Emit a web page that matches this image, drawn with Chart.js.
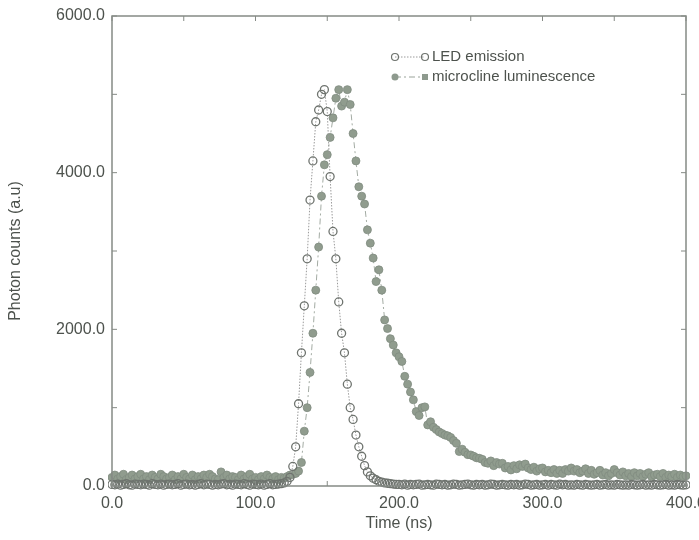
<!DOCTYPE html>
<html>
<head>
<meta charset="utf-8">
<script src="https://cdn.jsdelivr.net/npm/chart.js@4.4.1/dist/chart.umd.min.js"></script>
<style>
  body { margin: 0; background: #fff; }
  #wrap { width: 699px; height: 540px; }
</style>
</head>
<body>
<div id="wrap"><canvas id="myChart" width="699" height="540"></canvas></div>
<script>
// sampling grid (ns)
const timeNs = [
  0,2,4,6,8,10,12,14,16,18, 20,22,24,26,28,30,32,34,36,38,
  40,42,44,46,48,50,52,54,56,58, 60,62,64,66,68,70,72,74,76,78,
  80,82,84,86,88,90,92,94,96,98, 100,102,104,106,108,110,112,114,116,118,
  120,122,124,126,128,130,132,134,136,138, 140,142,144,146,148,150,152,154,156,158,
  160,162,164,166,168,170,172,174,176,178, 180,182,184,186,188,190,192,194,196,198,
  200,202,204,206,208,210,212,214,216,218, 220,222,224,226,228,230,232,234,236,238,
  240,242,244,246,248,250,252,254,256,258, 260,262,264,266,268,270,272,274,276,278,
  280,282,284,286,288,290,292,294,296,298, 300,302,304,306,308,310,312,314,316,318,
  320,322,324,326,328,330,332,334,336,338, 340,342,344,346,348,350,352,354,356,358,
  360,362,364,366,368,370,372,374,376,378, 380,382,384,386,388,390,392,394,396,398,
  400
];

// LED emission (open circles)
const ledCounts = [
  20,15,25,10,20,30,15,10,25,20, 15,25,20,10,30,20,15,25,10,20,
  25,15,20,30,10,20,25,15,20,10, 20,30,15,25,20,10,20,15,25,30,
  15,20,10,25,20,15,30,20,10,25, 20,15,25,10,20,30,15,20,25,30,
  40,60,110,250,500,1050,1700,2300,2900,3650, 4150,4650,4800,5000,5060,4780,3950,3250,2900,2350,
  1950,1700,1300,1000,850,650,500,380,260,180, 130,100,80,60,50,40,35,30,25,20,
  20,15,25,10,20,15,20,25,10,15, 20,15,10,25,20,15,20,10,15,25,
  20,10,15,20,25,15,10,20,15,20, 10,15,25,20,10,15,20,15,10,20,
  15,20,10,15,25,20,10,15,20,10, 15,20,10,20,15,10,25,15,20,10,
  15,10,20,15,10,20,15,10,15,20, 10,15,20,10,15,10,20,15,10,15,
  10,20,15,10,15,20,10,15,10,20, 15,10,15,20,10,15,10,20,15,10,
  15
];

// microcline luminescence (filled circles)
const microclineCounts = [
  110,140,90,120,150,80,110,140,90,120, 150,90,120,80,140,110,90,150,120,90,
  110,140,80,120,90,150,110,90,140,80, 120,90,140,110,150,120,90,80,180,110,
  140,90,120,110,80,140,90,120,150,90, 110,80,120,90,140,110,90,120,80,110,
  100,120,140,150,160,190,300,700,1000,1450, 1950,2500,3050,3700,4100,4230,4450,4700,4950,5060,
  4850,4900,5060,4870,4500,4150,3820,3700,3600,3270, 3100,2910,2610,2760,2500,2120,2010,1880,1800,1700,
  1650,1590,1400,1300,1200,1100,950,900,1000,1010, 780,820,750,720,690,670,650,640,620,580,
  545,440,470,430,400,396,380,360,354,340, 300,290,320,260,300,280,290,230,250,205,
  260,220,270,250,280,230,210,240,190,220, 230,180,200,170,210,160,200,160,210,190,
  230,190,210,170,190,220,160,200,150,170, 200,140,170,130,160,210,170,140,180,130,
  160,120,170,130,160,120,150,170,120,140, 150,120,160,110,140,120,150,110,140,120,
  130
];

const xTicks = [0, 100, 200, 300, 400];
const yTicks = [0, 2000, 4000, 6000];

const textColor = '#4d524d';
const fontFamily = '"Liberation Sans", Arial, Helvetica, sans-serif';

// frame + inward tick marks
const frame = {
  id: 'frame',
  afterDatasetsDraw(chart) {
    const { ctx, chartArea: a, scales } = chart;
    ctx.save();
    ctx.strokeStyle = '#858a85';
    ctx.lineWidth = 1.5;
    ctx.strokeRect(a.left, a.top, a.right - a.left, a.bottom - a.top);
    ctx.lineWidth = 1;
    for (let v = 0; v <= 400; v += 50) {
      const px = scales.x.getPixelForValue(v);
      ctx.beginPath();
      ctx.moveTo(px, a.bottom); ctx.lineTo(px, a.bottom - 5);
      ctx.moveTo(px, a.top); ctx.lineTo(px, a.top + 5);
      ctx.stroke();
    }
    for (let v = 0; v <= 6000; v += 1000) {
      const py = scales.y.getPixelForValue(v);
      ctx.beginPath();
      ctx.moveTo(a.left, py); ctx.lineTo(a.left + 5, py);
      ctx.moveTo(a.right, py); ctx.lineTo(a.right - 5, py);
      ctx.stroke();
    }
    ctx.restore();
  }
};

// legend drawn by hand, inside the plot
const keyBox = {
  id: 'keyBox',
  afterDraw(chart) {
    const ctx = chart.ctx;
    ctx.save();
    ctx.font = '15px ' + fontFamily;
    ctx.fillStyle = textColor;
    ctx.textBaseline = 'middle';

    // LED emission
    let y = 57;
    ctx.strokeStyle = '#9a9a9a';
    ctx.lineWidth = 1;
    ctx.setLineDash([1.5, 1.5]);
    ctx.beginPath(); ctx.moveTo(395, y); ctx.lineTo(425, y); ctx.stroke();
    ctx.setLineDash([]);
    ctx.strokeStyle = '#6e736e';
    ctx.lineWidth = 1.2;
    [395, 425].forEach(x => { ctx.beginPath(); ctx.arc(x, y, 3.5, 0, Math.PI * 2); ctx.stroke(); });
    ctx.fillText('LED emission', 432, y);

    // microcline luminescence
    y = 77;
    ctx.strokeStyle = '#9aa39a';
    ctx.lineWidth = 1;
    ctx.setLineDash([6, 3, 2, 3]);
    ctx.beginPath(); ctx.moveTo(395, y); ctx.lineTo(425, y); ctx.stroke();
    ctx.setLineDash([]);
    ctx.fillStyle = '#8e9a8e';
    ctx.beginPath(); ctx.arc(395, y, 3.5, 0, Math.PI * 2); ctx.fill();
    ctx.fillRect(422, y - 3, 6, 6);
    ctx.fillStyle = textColor;
    ctx.fillText('microcline luminescence', 432, y);
    ctx.restore();
  }
};

new Chart('myChart', {
  type: 'scatter',
  data: {
    datasets: [
      {
        label: 'LED emission',
        data: timeNs.map((t, i) => ({ x: t, y: ledCounts[i] })),
        showLine: true,
        borderColor: '#9a9a9a',
        borderWidth: 1,
        borderDash: [1.5, 1.5],
        pointRadius: 4,
        pointBorderWidth: 1.3,
        pointBorderColor: '#6e736e',
        pointBackgroundColor: 'rgba(255,255,255,0)',
        clip: 4
      },
      {
        label: 'microcline luminescence',
        data: timeNs.map((t, i) => ({ x: t, y: microclineCounts[i] })),
        showLine: true,
        borderColor: '#a3aba3',
        borderWidth: 1,
        borderDash: [6, 3, 2, 3],
        pointRadius: 4,
        pointBorderWidth: 0.8,
        pointBorderColor: '#808b80',
        pointBackgroundColor: '#909c8e',
        clip: 4
      }
    ]
  },
  options: {
    responsive: false,
    animation: false,
    layout: { padding: { top: 16, right: 13, left: 0, bottom: 0 } },
    plugins: {
      legend: { display: false },
      tooltip: { enabled: false }
    },
    scales: {
      x: {
        type: 'linear',
        min: 0, max: 400,
        afterBuildTicks: s => { s.ticks = xTicks.map(v => ({ value: v })); },
        afterFit: s => { s.height = 54; s.paddingLeft = 0; s.paddingRight = 0; },
        grid: { display: false, drawTicks: false },
        border: { display: false },
        ticks: {
          padding: 8,
          maxRotation: 0,
          color: textColor,
          font: { size: 16, family: fontFamily },
          callback: v => v.toFixed(1)
        },
        title: {
          display: true,
          text: 'Time (ns)',
          color: textColor,
          font: { size: 16, family: fontFamily },
          padding: { top: 0, bottom: 7 }
        }
      },
      y: {
        min: 0, max: 6000,
        afterBuildTicks: s => { s.ticks = yTicks.map(v => ({ value: v })); },
        afterFit: s => { s.width = 112; s.paddingTop = 0; s.paddingBottom = 0; },
        grid: { display: false, drawTicks: false },
        border: { display: false },
        ticks: {
          padding: 7,
          color: textColor,
          font: { size: 16, family: fontFamily },
          callback: v => v.toFixed(1)
        },
        title: {
          display: true,
          text: 'Photon counts (a.u)',
          color: textColor,
          font: { size: 16, family: fontFamily },
          padding: { top: 6, bottom: 0 }
        }
      }
    }
  },
  plugins: [frame, keyBox]
});
</script>
</body>
</html>
